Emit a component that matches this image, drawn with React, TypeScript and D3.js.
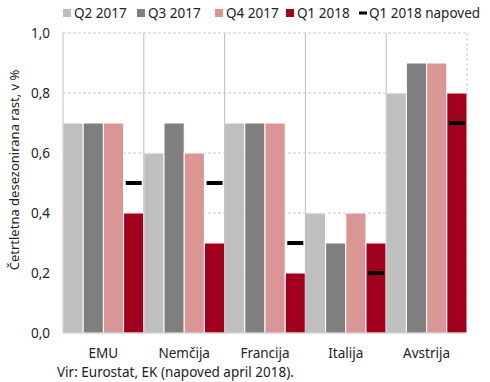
import React from "react";
import * as d3 from "d3";

const categories = ["EMU", "Nemčija", "Francija", "Italija", "Avstrija"];
const seriesNames = ["Q2 2017", "Q3 2017", "Q4 2017", "Q1 2018"];
const q2_2017 = [0.7, 0.6, 0.7, 0.4, 0.8];
const q3_2017 = [0.7, 0.7, 0.7, 0.3, 0.9];
const q4_2017 = [0.7, 0.6, 0.7, 0.4, 0.9];
const q1_2018 = [0.4, 0.3, 0.2, 0.3, 0.8];
const q1_2018_napoved = [0.5, 0.5, 0.3, 0.2, 0.7];
const napovedName = "Q1 2018 napoved";
const yTicks = [0, 0.2, 0.4, 0.6, 0.8, 1.0];
const yTitle = "Četrtletna desezonirana rast, v %";
const source = "Vir: Eurostat, EK (napoved april 2018).";

const colors = ["#bfbfbf", "#7f7f7f", "#d99694", "#a0001e"];
const seriesData = [q2_2017, q3_2017, q4_2017, q1_2018];

export default function App() {
  const W = 490, H = 382;
  const left = 63, right = 467, top = 33, bottom = 333;
  const font = "'Noto Sans', sans-serif";
  const fs = 13.5;
  const x = d3.scaleBand<string>().domain(categories).range([left, right]).padding(0);
  const xs = d3.scaleBand<string>().domain(seriesNames).range([0, x.bandwidth()]).padding(0);
  const y = d3.scaleLinear().domain([0, 1]).range([bottom, top]);
  const fmt = (v: number) => v.toFixed(1).replace(".", ",");

  const legendItems = [
    { x: 63, label: seriesNames[0], color: colors[0] },
    { x: 137, label: seriesNames[1], color: colors[1] },
    { x: 215, label: seriesNames[2], color: colors[2] },
    { x: 286, label: seriesNames[3], color: colors[3] },
  ];

  return (
    <svg width={W} height={H} style={{ position: "absolute", left: 0, top: 0, background: "#fff" }} fontFamily={font}>
      {yTicks.filter((t) => t > 0).map((t) => (
        <line key={t} x1={left} x2={right} y1={y(t)} y2={y(t)} stroke="#c8c8c8" strokeDasharray="3,2" strokeWidth={1} />
      ))}
      <line x1={right} x2={right} y1={top} y2={bottom} stroke="#c8c8c8" strokeDasharray="3,2" />
      {categories.map((c, ci) =>
        seriesData.map((s, si) => (
          <rect
            key={c + si}
            x={(x(c) as number) + (xs(seriesNames[si]) as number)}
            y={y(s[ci])}
            width={xs.bandwidth()}
            height={bottom - y(s[ci])}
            fill={colors[si]}
            stroke="#fff"
            strokeWidth={1}
          />
        ))
      )}
      {categories.slice(1).map((c) => (
        <line key={c} x1={x(c) as number} x2={x(c) as number} y1={top} y2={bottom} stroke="#bfbfbf" strokeWidth={1} />
      ))}
      <line x1={left} x2={left} y1={top} y2={bottom} stroke="#bfbfbf" />
      <line x1={left} x2={right} y1={bottom} y2={bottom} stroke="#bfbfbf" />
      {categories.map((c, ci) => {
        const bx = (x(c) as number) + (xs(seriesNames[3]) as number);
        const cx = bx + xs.bandwidth() / 2;
        return <rect key={"n" + c} x={cx - 8} y={y(q1_2018_napoved[ci]) - 2} width={16} height={4} fill="#000" />;
      })}
      {yTicks.map((t) => (
        <text key={t} x={50} y={y(t)} dy="0.35em" textAnchor="end" fontSize={fs} fill="#222">
          {fmt(t)}
        </text>
      ))}
      <text transform={`translate(14,170) rotate(-90)`} textAnchor="middle" dy="0.35em" fontSize={13} fill="#222">
        {yTitle}
      </text>
      {categories.map((c) => (
        <text key={c} x={(x(c) as number) + x.bandwidth() / 2} y={353} dy="0.35em" textAnchor="middle" fontSize={fs} fill="#222">
          {c}
        </text>
      ))}
      <text x={57} y={372} dy="0.35em" fontSize={fs} fill="#222">{source}</text>
      {legendItems.map((l) => (
        <g key={l.label}>
          <rect x={l.x} y={9} width={8} height={8} fill={l.color} />
          <text x={l.x + 11} y={13} dy="0.35em" fontSize={fs} fill="#222">{l.label}</text>
        </g>
      ))}
      <rect x={359} y={11.5} width={8} height={3} fill="#000" />
      <text x={369} y={13} dy="0.35em" fontSize={fs} fill="#222">{napovedName}</text>
    </svg>
  );
}
